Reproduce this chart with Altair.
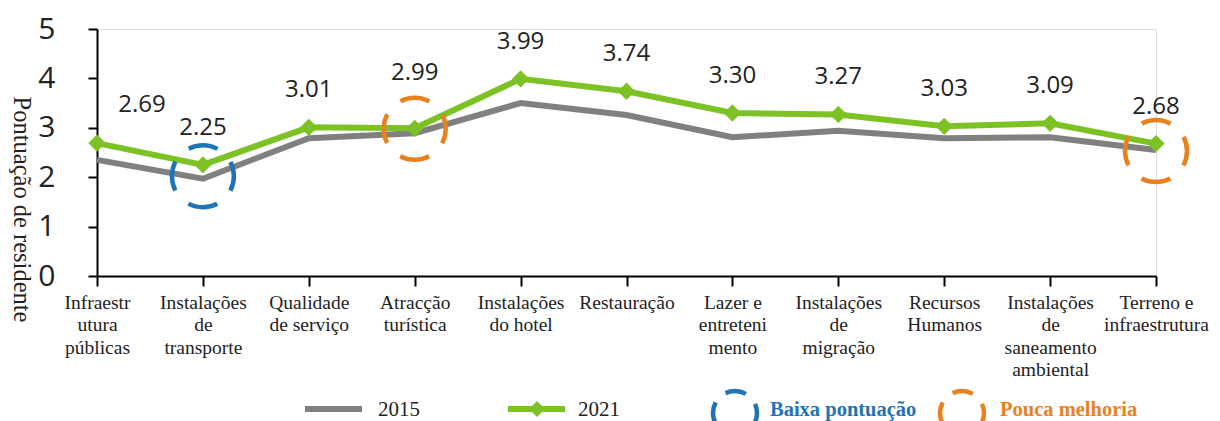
import altair as alt
import pandas as pd

categories = [
    "Infraestr|utura|públicas",
    "Instalações|de|transporte",
    "Qualidade|de serviço",
    "Atracção|turística",
    "Instalações|do hotel",
    "Restauração",
    "Lazer e|entreteni|mento",
    "Instalações|de|migração",
    "Recursos|Humanos",
    "Instalações|de|saneamento|ambiental",
    "Terreno e|infraestrutura",
]
values_2015 = [2.35, 1.97, 2.79, 2.89, 3.50, 3.26, 2.81, 2.94, 2.79, 2.81, 2.55]
values_2021 = [2.69, 2.25, 3.01, 2.99, 3.99, 3.74, 3.30, 3.27, 3.03, 3.09, 2.68]
years = ["2015", "2021"]

anno_cats = ["Instalações|de|transporte", "Atracção|turística", "Terreno e|infraestrutura"]
anno_vals = [2.02, 2.98, 2.53]
anno_kind = ["Baixa pontuação", "Pouca melhoria", "Pouca melhoria"]

GRAY = "#808080"
GREEN = "#7cc225"
BLUE = "#1f74b6"
ORANGE = "#e8821e"

rows = []
for c, v in zip(categories, values_2015):
    rows.append({"cat": c, "year": "2015", "value": v})
for c, v in zip(categories, values_2021):
    rows.append({"cat": c, "year": "2021", "value": v})
df = pd.DataFrame(rows)
df21 = df[df.year == "2021"].copy()
df21["lab"] = df21["value"].map(lambda v: f"{v:.2f}")

anno = pd.DataFrame({"cat": anno_cats, "value": anno_vals, "kind": anno_kind})

x_enc = alt.X(
    "cat:N",
    sort=categories,
    scale=alt.Scale(type="point", padding=0),
    axis=alt.Axis(
        title=None,
        labelExpr="split(datum.label, '|')",
        labelAngle=0,
        labelFont="Liberation Serif",
        labelFontSize=19.5,
        labelColor="#222",
        labelLineHeight=22.5,
        labelPadding=7,
        tickSize=10,
        tickColor="black",
        tickWidth=2,
        domainColor="black",
        domainWidth=2,
        labelOverlap=False,
    ),
)
y_scale = alt.Scale(domain=[0, 5], nice=False)
y_enc = alt.Y(
    "value:Q",
    scale=y_scale,
    axis=alt.Axis(
        title="Pontuação de residente",
        titleFont="Liberation Serif",
        titleFontSize=24.5,
        titleFontWeight="normal",
        titleColor="#222222",
        titleAngle=90,
        titleX=-77,
        titleY=180,
        titleAlign="center",
        titleBaseline="middle",
        values=[0, 1, 2, 3, 4, 5],
        labelFont="Open Sans",
        labelFontSize=30,
        labelColor="#222",
        labelPadding=33,
        tickSize=9,
        tickColor="black",
        tickWidth=2,
        domainColor="black",
        domainWidth=2,
        grid=False,
    ),
)

color_scale = alt.Scale(domain=years, range=[GRAY, GREEN])

lines = alt.Chart(df).mark_line(strokeWidth=6).encode(
    x=x_enc,
    y=y_enc,
    color=alt.Color("year:N", scale=color_scale, legend=None),
    order=alt.Order("year:N"),
)

diamonds = alt.Chart(df21).mark_point(
    shape="diamond", filled=True, size=300, color=GREEN, opacity=1
).encode(x=alt.X("cat:N", sort=categories), y=alt.Y("value:Q", scale=y_scale))

txt_style = dict(font="Open Sans", fontSize=24, color="#222", baseline="middle", align="center")
first_cat = categories[0]
fourth_cat = categories[3]
labels_main = alt.Chart(df21).transform_filter(
    (alt.datum.cat != first_cat) & (alt.datum.cat != fourth_cat)
).mark_text(dy=-37, **txt_style).encode(
    x=alt.X("cat:N", sort=categories), y=alt.Y("value:Q", scale=y_scale), text="lab:N"
)
label_first = alt.Chart(df21).transform_filter(alt.datum.cat == first_cat).mark_text(
    dy=-38, dx=45, **txt_style
).encode(x=alt.X("cat:N", sort=categories), y=alt.Y("value:Q", scale=y_scale), text="lab:N")
label_fourth = alt.Chart(df21).transform_filter(alt.datum.cat == fourth_cat).mark_text(
    dy=-55, **txt_style
).encode(x=alt.X("cat:N", sort=categories), y=alt.Y("value:Q", scale=y_scale), text="lab:N")

anno_color = alt.Scale(domain=["Baixa pontuação", "Pouca melhoria"], range=[BLUE, ORANGE])
circles = alt.Chart(anno).mark_point(
    shape="circle", filled=False, size=3844, strokeWidth=4.5,
    strokeDash=[30, 18.7], strokeDashOffset=15, opacity=1
).encode(
    x=alt.X("cat:N", sort=categories),
    y=alt.Y("value:Q", scale=y_scale),
    color=alt.Color("kind:N", scale=anno_color, legend=None),
)

# manual legend
one = pd.DataFrame({"k": [0]})
leg_gray = alt.Chart(one).mark_rule(color=GRAY, strokeWidth=6).encode(
    x=alt.value(208), x2=alt.value(265), y=alt.value(380)
)
leg_green = alt.Chart(one).mark_rule(color=GREEN, strokeWidth=6).encode(
    x=alt.value(411), x2=alt.value(468), y=alt.value(380)
)
leg_diamond = alt.Chart(one).mark_point(shape="diamond", filled=True, size=260, color=GREEN, opacity=1).encode(
    x=alt.value(440), y=alt.value(380)
)
leg_t15 = alt.Chart(one).mark_text(text="2015", font="Liberation Serif", fontSize=21, align="left", baseline="middle", color="#222").encode(
    x=alt.value(281), y=alt.value(381)
)
leg_t21 = alt.Chart(one).mark_text(text="2021", font="Liberation Serif", fontSize=21, align="left", baseline="middle", color="#222").encode(
    x=alt.value(481), y=alt.value(381)
)
leg_c1 = alt.Chart(one).mark_point(shape="circle", filled=False, size=1936, strokeWidth=4.5, color=BLUE,
                                   strokeDash=[21, 13.6], strokeDashOffset=10.5, opacity=1).encode(
    x=alt.value(638), y=alt.value(384)
)
leg_c2 = alt.Chart(one).mark_point(shape="circle", filled=False, size=1936, strokeWidth=4.5, color=ORANGE,
                                   strokeDash=[21, 13.6], strokeDashOffset=10.5, opacity=1).encode(
    x=alt.value(865), y=alt.value(384)
)
leg_tb = alt.Chart(one).mark_text(text="Baixa pontuação", font="Liberation Serif", fontSize=20.5, fontWeight="bold",
                                  align="left", baseline="middle", color=BLUE).encode(
    x=alt.value(673), y=alt.value(381)
)
leg_to = alt.Chart(one).mark_text(text="Pouca melhoria", font="Liberation Serif", fontSize=20.5, fontWeight="bold",
                                  align="left", baseline="middle", color=ORANGE).encode(
    x=alt.value(903), y=alt.value(381)
)

chart = alt.layer(
    lines, diamonds, labels_main, label_first, label_fourth, circles,
    leg_gray, leg_green, leg_diamond, leg_t15, leg_t21, leg_c1, leg_c2, leg_tb, leg_to,
).resolve_scale(color="independent").properties(
    width=1059,
    height=247,
    autosize=alt.AutoSizeParams(type="none"),
    padding={"left": 89, "top": 21, "right": 56, "bottom": 145},
).configure_view(stroke=None).configure(background="white")

chart.save("out.html", embed_options={"renderer": "svg", "actions": False})
